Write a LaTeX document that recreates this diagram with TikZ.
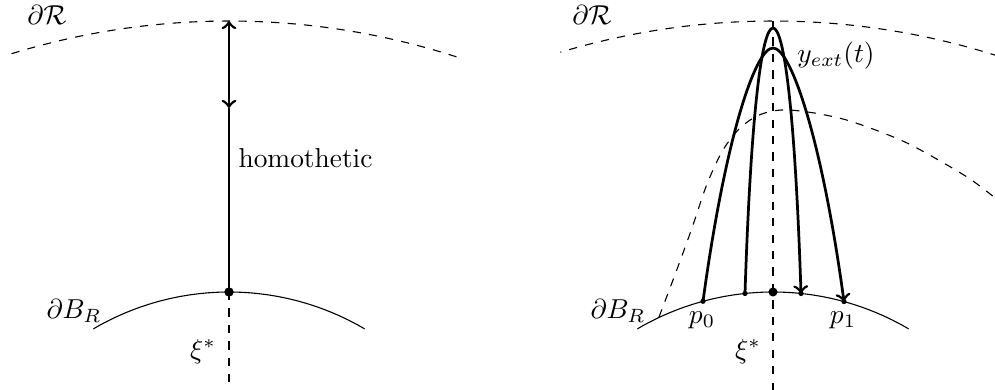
\documentclass[tikz,border=0pt]{standalone}
\begin{document}
\begin{tikzpicture}[x=0.01283cm,y=-0.01283cm,
  bnd/.style={line width=0.4pt},
  dsh/.style={dashed,line width=0.4pt},
  traj/.style={line width=1pt},
  bigdot/.style={circle,fill,inner sep=0pt,minimum size=3.3pt},
  smalldot/.style={circle,fill,inner sep=0pt,minimum size=1.9pt},
  lbl/.style={inner sep=0pt}]
\useasboundingbox (0,0) rectangle (995,390);
\clip (0,0) rectangle (995,390);
% ---------------- left panel ----------------
\coordinate (LRtop) at (229,21);
\coordinate (Lmid) at (229,108);
\coordinate (Lbot) at (229,392);
\draw[dsh] plot[domain=72.1:107.3,samples=80] ({229+740*cos(\x)},{761-740*sin(\x)});
\draw[bnd] plot[domain=59.6:120.4,samples=80] ({229+268*cos(\x)},{560-268*sin(\x)});
\node[bigdot] (Ldot) at (229,292) {};
\draw[dsh] (Ldot.center) -- (Lbot);
\draw[traj,<->] (LRtop) -- (Lmid);
\draw[traj] (Lmid) -- (Ldot.center);
\node[bigdot] at (Ldot.center) {};
\node[lbl] (LR) at (47,15) {$\partial\mathcal{R}$};
\node[lbl] (LB) at (74,311) {$\partial B_R$};
\node[lbl] (Lxi) at (203,352) {$\xi^*$};
\node[lbl,anchor=west] (hom) at (238,158) {homothetic};
% ---------------- right panel ----------------
\coordinate (RRtop) at (773,21);
\coordinate (Rbot) at (773,392);
\draw[dsh] plot[domain=71:106.7,samples=80] ({773+740*cos(\x)},{761-740*sin(\x)});
\draw[bnd] plot[domain=59.6:120.4,samples=80] ({773+268*cos(\x)},{560-268*sin(\x)});
\draw[dsh] plot[smooth] coordinates {(659,317) (676,272) (692,228) (707,184) (723,150) (740,128) (757,116) (773,111) (790,110) (820,114) (853,122) (907,143) (967,177) (1000,202)};
\draw[dsh] (RRtop) -- (Rbot);
\coordinate (apO) at (773,48);
\coordinate (apI) at (773,28);
\coordinate (p0) at (703,301.3);
\coordinate (q0) at (745,293.5);
\coordinate (q1) at (801,293.5);
\coordinate (p1) at (844,301.6);
\coordinate (xi) at (773,292);
\draw[traj,->] (p0) .. controls (725,140) and (755,48) .. (apO) .. controls (791,48) and (822,140) .. (p1);
\draw[traj,->] (q0) .. controls (751,110) and (762,28) .. (apI) .. controls (784,28) and (795,110) .. (q1);
\node[smalldot] (p0dot) at (p0) {};
\node[smalldot] (q0dot) at (q0) {};
\node[smalldot] (q1dot) at (q1) {};
\node[smalldot] (p1dot) at (p1) {};
\node[bigdot] (Rdot) at (xi) {};
\node[lbl] (RR) at (592,15) {$\partial\mathcal{R}$};
\node[lbl] (RB) at (618,311) {$\partial B_R$};
\node[lbl] (Rxi) at (748,352) {$\xi^*$};
\node[lbl] (lp0) at (702,320) {$p_0$};
\node[lbl] (lp1) at (843,320) {$p_1$};
\node[lbl] (yext) at (836,56) {$y_{ext}(t)$};
\end{tikzpicture}
\end{document}
